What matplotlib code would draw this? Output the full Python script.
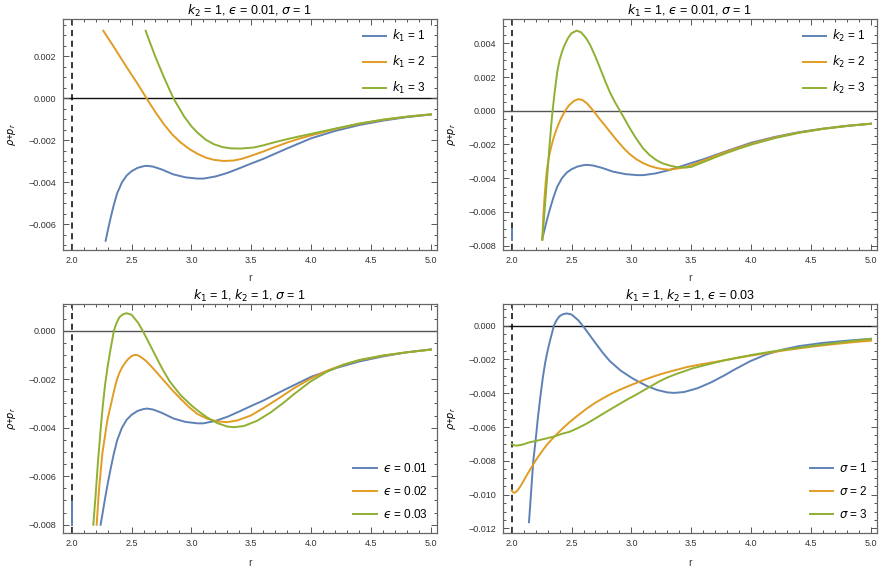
import matplotlib
matplotlib.use("Agg")
import numpy as np
import matplotlib.pyplot as plt
from matplotlib.ticker import MultipleLocator, FuncFormatter

plt.rcParams['font.family'] = ['Liberation Sans', 'DejaVu Sans']
plt.rcParams['mathtext.fontset'] = 'dejavusans'

BLUE = '#5E81B5'
ORANGE = '#E19C24'
GREEN = '#8FB032'

# ---------------- data ----------------
# k1=1, k2=1, eps=0.01, sigma=1  (blue curve of the first three panels)
r_base = [2.242, 2.256, 2.27, 2.284, 2.30, 2.326, 2.35, 2.38, 2.42, 2.46, 2.50, 2.55,
          2.60, 2.63, 2.68, 2.75, 2.85, 2.95, 3.05, 3.10, 3.20, 3.30, 3.40, 3.50,
          3.60, 3.70, 3.80, 3.90, 4.00, 4.20, 4.40, 4.60, 4.80, 5.00]
v_base = [-0.0080, -0.0076, -0.00718, -0.00678, -0.00634, -0.00568, -0.00512, -0.00452,
          -0.00400, -0.00367, -0.00347, -0.00331, -0.00323, -0.00321, -0.00325, -0.00338,
          -0.00362, -0.00376, -0.00382, -0.00382, -0.00372, -0.00355, -0.00333, -0.00310,
          -0.00288, -0.00263, -0.00238, -0.00214, -0.00190, -0.00155, -0.00127, -0.00106,
          -0.00089, -0.00077]

# panel 1: k1 = 2, k1 = 3
r_k1_2 = [2.264, 2.30, 2.35, 2.40, 2.45, 2.50, 2.55, 2.60, 2.626, 2.65, 2.70, 2.771, 2.84,
          2.91, 2.98, 3.05, 3.12, 3.19, 3.27, 3.35, 3.42, 3.49, 3.60, 3.70, 3.80, 3.90,
          4.00, 4.20, 4.40, 4.60, 4.80, 5.00]
v_k1_2 = [0.00322, 0.00291, 0.00247, 0.00202, 0.00157, 0.00113, 0.00070, 0.00024, 0.0,
          -0.00022, -0.00066, -0.00124, -0.00172, -0.00210, -0.00240, -0.00264, -0.00282,
          -0.00293, -0.00298, -0.00296, -0.00288, -0.00275, -0.00253, -0.00231, -0.00210,
          -0.00192, -0.00176, -0.00146, -0.00121, -0.00102, -0.00087, -0.00076]
r_k1_3 = [2.618, 2.65, 2.70, 2.77, 2.85, 2.94, 3.00, 3.05, 3.12, 3.19, 3.26, 3.33, 3.41,
          3.52, 3.605, 3.70, 3.80, 3.90, 4.00, 4.20, 4.40, 4.60, 4.80, 5.00]
v_k1_3 = [0.00322, 0.00272, 0.00197, 0.00101, 0.0, -0.00087, -0.00133, -0.00163, -0.00197,
          -0.00219, -0.00232, -0.00238, -0.00239, -0.00234, -0.00223, -0.00208, -0.00194,
          -0.00181, -0.00169, -0.00144, -0.00120, -0.00101, -0.00087, -0.00076]

# panel 2: k2 = 2, k2 = 3
r_k2_2 = [2.256, 2.265, 2.275, 2.285, 2.295, 2.305, 2.317, 2.33, 2.345, 2.36, 2.38, 2.40,
          2.42, 2.447, 2.48, 2.52, 2.556, 2.59, 2.63, 2.682, 2.72, 2.77, 2.82, 2.874, 2.93,
          2.985, 3.04, 3.096, 3.15, 3.208, 3.26, 3.319, 3.375, 3.45, 3.50, 3.60, 3.70, 3.80,
          3.90, 4.00, 4.20, 4.40, 4.60, 4.80, 5.00]
v_k2_2 = [-0.00765, -0.0062, -0.0051, -0.0042, -0.0035, -0.0030, -0.00255, -0.00215,
          -0.00175, -0.00140, -0.00100, -0.00065, -0.00035, 0.0, 0.00033, 0.00058, 0.00069,
          0.00064, 0.00043, 0.0, -0.00036, -0.00080, -0.00124, -0.00172, -0.00218, -0.00257,
          -0.00287, -0.0031, -0.00327, -0.00339, -0.00346, -0.0035, -0.00344, -0.00335,
          -0.00323, -0.00296, -0.00268, -0.00242, -0.00218, -0.00196, -0.00158, -0.00129,
          -0.00107, -0.0009, -0.00077]
r_k2_3 = [2.256, 2.27, 2.285, 2.30, 2.315, 2.33, 2.342, 2.36, 2.381, 2.40, 2.42, 2.437,
          2.47, 2.50, 2.543, 2.58, 2.62, 2.654, 2.70, 2.737, 2.78, 2.82, 2.86, 2.904, 2.94,
          2.985, 3.04, 3.096, 3.15, 3.208, 3.26, 3.319, 3.375, 3.45, 3.50, 3.60, 3.70, 3.80,
          3.90, 4.00, 4.20, 4.40, 4.60, 4.80, 5.00]
v_k2_3 = [-0.00765, -0.0064, -0.0050, -0.0036, -0.0022, -0.0009, 0.0, 0.00115, 0.00232,
          0.00300, 0.00348, 0.00381, 0.0043, 0.00460, 0.00475, 0.00465, 0.00432, 0.00392,
          0.00320, 0.00255, 0.00177, 0.00110, 0.00054, 0.0, -0.00045, -0.00102, -0.00165,
          -0.00222, -0.00262, -0.00293, -0.00312, -0.00325, -0.00334, -0.00337, -0.00333,
          -0.00305, -0.00276, -0.00249, -0.00224, -0.00201, -0.00162, -0.00131, -0.00108,
          -0.00091, -0.00077]

# panel 3: eps = 0.02 ; eps = 0.03 (also sigma = 1 of panel 4)
r_eps_2 = [2.209, 2.228, 2.256, 2.298, 2.33, 2.353, 2.376, 2.40, 2.423, 2.45, 2.47, 2.50,
           2.523, 2.55, 2.576, 2.62, 2.659, 2.71, 2.765, 2.84, 2.91, 2.98, 3.049, 3.132,
           3.216, 3.299, 3.383, 3.494, 3.605, 3.745, 3.85, 3.99, 4.128, 4.267, 4.40,
           4.60, 4.80, 5.00]
v_eps_2 = [-0.0080, -0.00658, -0.00508, -0.0037, -0.0030, -0.0025, -0.00205, -0.00172,
           -0.00150, -0.00130, -0.00118, -0.00105, -0.00100, -0.00101, -0.00108, -0.00124,
           -0.00144, -0.00172, -0.00203, -0.00245, -0.00281, -0.00315, -0.00343, -0.00363,
           -0.00374, -0.00377, -0.0037, -0.0035, -0.00318, -0.00274, -0.00239, -0.00199,
           -0.00166, -0.0014, -0.00122, -0.00103, -0.00089, -0.00078]
r_eps_3 = [2.145, 2.164, 2.181, 2.20, 2.22, 2.24, 2.26, 2.28, 2.30, 2.32, 2.34, 2.353,
           2.375, 2.40, 2.43, 2.459, 2.50, 2.556, 2.593, 2.64, 2.70, 2.76, 2.82, 2.91,
           3.00, 3.049, 3.132, 3.216, 3.299, 3.355, 3.438, 3.55, 3.661, 3.772, 3.85, 3.99,
           4.128, 4.267, 4.40, 4.60, 4.80, 5.00]
v_eps_3 = [-0.01163, -0.0097, -0.0080, -0.0068, -0.0054, -0.0042, -0.0031, -0.0022,
           -0.00150, -0.00090, -0.00036, 0.0, 0.00032, 0.00056, 0.00068, 0.00072, 0.00066,
           0.00032, 0.0, -0.00045, -0.00103, -0.0016, -0.00210, -0.00266, -0.00308,
           -0.00328, -0.00358, -0.00381, -0.00395, -0.00398, -0.00393, -0.00371, -0.00337,
           -0.00296, -0.00264, -0.00211, -0.00170, -0.00141, -0.00121, -0.00102, -0.00089,
           -0.00078]

# panel 4: sigma = 2, sigma = 3
r_sig_2 = [2.0, 2.012, 2.025, 2.045, 2.067, 2.095, 2.122, 2.173, 2.206, 2.262, 2.30, 2.359,
           2.42, 2.484, 2.55, 2.623, 2.69, 2.762, 2.83, 2.902, 2.97, 3.041, 3.11, 3.18,
           3.25, 3.319, 3.39, 3.458, 3.53, 3.597, 3.68, 3.764, 3.88, 4.0, 4.15, 4.3, 4.5,
           4.685, 4.85, 5.0]
v_sig_2 = [-0.00975, -0.00986, -0.00989, -0.00978, -0.00958, -0.00925, -0.00890, -0.00830,
           -0.00792, -0.00735, -0.00700, -0.00655, -0.00612, -0.00571, -0.00533, -0.00493,
           -0.00460, -0.00430, -0.00404, -0.00380, -0.00359, -0.00339, -0.00320, -0.00302,
           -0.00286, -0.00272, -0.00259, -0.00246, -0.00236, -0.00227, -0.00217, -0.00207,
           -0.00192, -0.00177, -0.0016, -0.00144, -0.00125, -0.0011, -0.00098, -0.00089]
r_sig_3 = [2.0, 2.02, 2.039, 2.07, 2.10, 2.15, 2.20, 2.262, 2.30, 2.359, 2.42, 2.484, 2.55,
           2.623, 2.69, 2.762, 2.83, 2.902, 2.97, 3.041, 3.124, 3.235, 3.30, 3.375, 3.45,
           3.514, 3.58, 3.653, 3.764, 3.88, 4.0, 4.15, 4.3, 4.5, 4.685, 4.85, 5.0]
v_sig_3 = [-0.0070, -0.00708, -0.0071, -0.00707, -0.00702, -0.0069, -0.00683, -0.00672,
           -0.00666, -0.00655, -0.00640, -0.00628, -0.00607, -0.00581, -0.00553, -0.00522,
           -0.00493, -0.00463, -0.00435, -0.00408, -0.00374, -0.00329, -0.00307, -0.00286,
           -0.00268, -0.00252, -0.00240, -0.00227, -0.00207, -0.0019, -0.00174, -0.00156,
           -0.0014, -0.00121, -0.00104, -0.0009, -0.00078]

# short blue pieces drawn at r = 2 in panels 2 and 3
edge_r = [2.0, 2.0]
edge_v_tr = [-0.0070, -0.00765]
edge_v_bl = [-0.00707, -0.0080]

titles = [r'$k_2$ = 1, $ϵ$ = 0.01, $\sigma$ = 1',
          r'$k_1$ = 1, $ϵ$ = 0.01, $\sigma$ = 1',
          r'$k_1$ = 1, $k_2$ = 1, $\sigma$ = 1',
          r'$k_1$ = 1, $k_2$ = 1, $ϵ$ = 0.03']
labels_tl = [r'$k_1$ = 1', r'$k_1$ = 2', r'$k_1$ = 3']
labels_tr = [r'$k_2$ = 1', r'$k_2$ = 2', r'$k_2$ = 3']
labels_bl = [r'$ϵ$ = 0.01', r'$ϵ$ = 0.02', r'$ϵ$ = 0.03']
labels_br = [r'$\sigma$ = 1', r'$\sigma$ = 2', r'$\sigma$ = 3']

# ---------------- figure ----------------
W, H = 885, 574
fig = plt.figure(figsize=(W / 100, H / 100), dpi=100)


def add_ax(x0, y0, x1, y1):
    return fig.add_axes([x0 / W, 1 - y1 / H, (x1 - x0) / W, (y1 - y0) / H])


def yfmt(v, p):
    if abs(v) < 1e-9:
        return '0.000'
    return f'{v:.3f}'.replace('-', '\u2212')


def ax_center_y(ax):
    b = ax.get_position()
    return (1 - (b.y0 + b.height / 2)) * H


def style(ax, ylim, title, cx, ty, lx, xly, zero_col):
    ax.set_xlim(1.928, 5.05)
    ax.set_ylim(*ylim)
    ax.xaxis.set_major_locator(MultipleLocator(0.5))
    ax.xaxis.set_minor_locator(MultipleLocator(0.1))
    ax.yaxis.set_major_locator(MultipleLocator(0.002))
    ax.yaxis.set_minor_locator(MultipleLocator(0.0005))
    ax.xaxis.set_major_formatter(FuncFormatter(lambda v, p: f'{v:.1f}'))
    ax.yaxis.set_major_formatter(FuncFormatter(yfmt))
    ax.tick_params(which='both', direction='in', top=True, right=True,
                   color='#555555', labelcolor='#333333', labelsize=6.5, width=0.7)
    ax.tick_params(which='major', length=4)
    ax.tick_params(which='minor', length=2.2)
    ax.tick_params(axis='y', pad=5)
    ax.tick_params(axis='x', pad=4)
    for s in ax.spines.values():
        s.set_color('#666666')
        s.set_linewidth(0.9)
    ax.axhline(0, color=zero_col, lw=1.0, zorder=1)
    ax.axvline(2.0, color='black', lw=1.1, ls=(0, (4, 3)), zorder=1)
    fig.text(cx / W, 1 - ty / H, title, ha='center', va='center', fontsize=9)
    fig.text(lx / W, 1 - (ax_center_y(ax)) / H, r'$\rho$+$p_r$', rotation=90,
             ha='center', va='center', fontsize=7)
    fig.text(cx / W, 1 - xly / H, 'r', ha='center', va='center', fontsize=7.5,
             color='#333333')


lw = 1.4
legkw = dict(frameon=False, borderpad=0, borderaxespad=0, handlelength=2.0,
             handletextpad=0.5, labelspacing=0.85, fontsize=8.5,
             bbox_transform=fig.transFigure)

# top-left
ax1 = add_ax(63, 19, 437, 250)
ax1.plot(np.array(r_base)[3:], np.array(v_base)[3:], color=BLUE, lw=lw, label=labels_tl[0])
ax1.plot(r_k1_2, v_k1_2, color=ORANGE, lw=lw, label=labels_tl[1])
ax1.plot(r_k1_3, v_k1_3, color=GREEN, lw=lw, label=labels_tl[2])
style(ax1, (-0.00722, 0.00378), titles[0], 250, 11, 12, 278, '#111111')
ax1.legend(loc='upper right', bbox_to_anchor=(426 / W, 1 - 28 / H), **legkw)

# top-right
ax2 = add_ax(503, 19, 877, 250)
ax2.plot(np.array(r_base)[1:], np.array(v_base)[1:], color=BLUE, lw=lw, label=labels_tr[0])
ax2.plot(r_k2_2, v_k2_2, color=ORANGE, lw=lw, label=labels_tr[1])
ax2.plot(r_k2_3, v_k2_3, color=GREEN, lw=lw, label=labels_tr[2])
ax2.plot(edge_r, edge_v_tr, color=BLUE, lw=lw)
style(ax2, (-0.00826, 0.00544), titles[1], 690, 11, 452, 278, '#555555')
ax2.legend(loc='upper right', bbox_to_anchor=(866 / W, 1 - 28 / H), **legkw)

# bottom-left
ax3 = add_ax(63, 304, 437, 533)
ax3.plot(r_base, v_base, color=BLUE, lw=lw, label=labels_bl[0])
ax3.plot(r_eps_2, v_eps_2, color=ORANGE, lw=lw, label=labels_bl[1])
ax3.plot(np.array(r_eps_3)[2:], np.array(v_eps_3)[2:], color=GREEN, lw=lw, label=labels_bl[2])
ax3.plot(edge_r, edge_v_bl, color=BLUE, lw=lw)
style(ax3, (-0.00834, 0.0011), titles[2], 250, 296, 12, 563, '#555555')
ax3.legend(loc='lower right', bbox_to_anchor=(428 / W, 1 - 521 / H), **legkw)

# bottom-right
ax4 = add_ax(503, 304, 877, 533)
ax4.plot(r_eps_3, v_eps_3, color=BLUE, lw=lw, label=labels_br[0])
ax4.plot(r_sig_2, v_sig_2, color=ORANGE, lw=lw, label=labels_br[1])
ax4.plot(r_sig_3, v_sig_3, color=GREEN, lw=lw, label=labels_br[2])
style(ax4, (-0.01227, 0.00128), titles[3], 690, 296, 452, 563, '#111111')
ax4.legend(loc='lower right', bbox_to_anchor=(868 / W, 1 - 521 / H), **legkw)

fig.savefig('out.png', dpi=100)
